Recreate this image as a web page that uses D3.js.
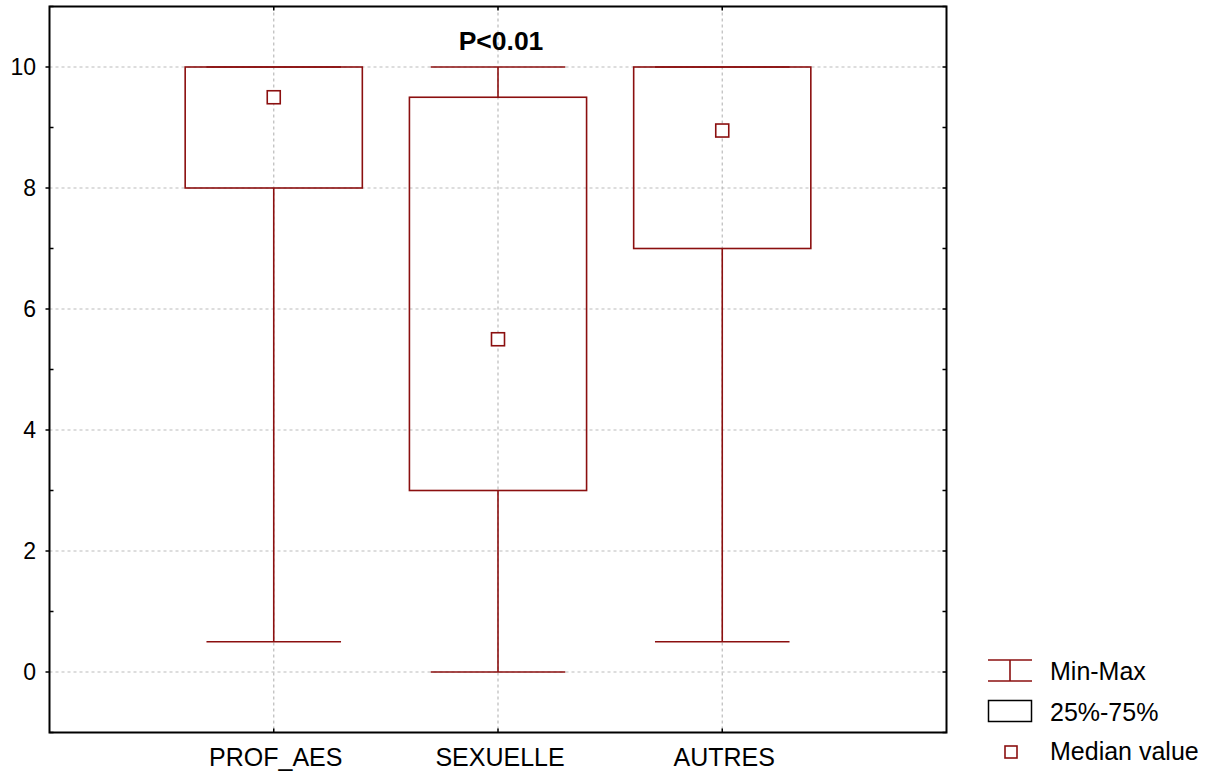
<!DOCTYPE html>
<html><head><meta charset="utf-8">
<script src="https://cdn.jsdelivr.net/npm/d3@7"></script>
<style>body{margin:0;background:#fff}text{font-family:"Liberation Sans",Arial,sans-serif}</style>
</head><body>
<svg id="c" width="1220" height="776"></svg>
<script>
const categories = ["PROF_AES", "SEXUELLE", "AUTRES"];
const minVals    = [0.5, 0, 0.5];
const q1Vals     = [8, 3, 7];
const medianVals = [9.5, 5.5, 8.95];
const q3Vals     = [10, 9.5, 10];
const maxVals    = [10, 10, 10];
const yTicks     = [0, 2, 4, 6, 8, 10];
const annotation = "P<0.01";
const legendLabels = ["Min-Max", "25%-75%", "Median value"];

const red = "#8b0f0f";
const svg = d3.select("#c");
const L = 49.5, R = 946.5, T = 6.5, B = 732.5;
const x = d3.scaleLinear().domain([0, 4]).range([L, R]);
const y = d3.scaleLinear().domain([-1, 11]).range([B, T]);

// grid
const g = svg.append("g");
g.selectAll(".hg").data(yTicks).join("line")
  .attr("x1", L).attr("x2", R).attr("y1", d => y(d)).attr("y2", d => y(d))
  .attr("stroke", "#bbb").attr("stroke-width", 1.2).attr("stroke-dasharray", "3,3");
g.selectAll(".vg").data(categories).join("line")
  .attr("x1", (d,i) => x(i+1)).attr("x2", (d,i) => x(i+1)).attr("y1", T).attr("y2", B)
  .attr("stroke", "#bbb").attr("stroke-width", 1.2).attr("stroke-dasharray", "3,3");

// boxes
const boxW = 0.79, capW = 0.6;
const data = categories.map((c, i) => ({c, i, min: minVals[i], q1: q1Vals[i], med: medianVals[i], q3: q3Vals[i], max: maxVals[i]}));
const bx = svg.append("g");
data.forEach(d => {
  const cx = x(d.i + 1);
  const hw = (x(boxW/2) - x(0));
  const cw = (x(capW/2) - x(0));
  bx.append("line").attr("x1", cx).attr("x2", cx).attr("y1", y(d.q1)).attr("y2", y(d.min)).attr("stroke", red).attr("stroke-width", 1.6);
  bx.append("line").attr("x1", cx).attr("x2", cx).attr("y1", y(d.q3)).attr("y2", y(d.max)).attr("stroke", red).attr("stroke-width", 1.6);
  bx.append("line").attr("x1", cx - cw).attr("x2", cx + cw).attr("y1", y(d.min)).attr("y2", y(d.min)).attr("stroke", red).attr("stroke-width", 1.6);
  bx.append("line").attr("x1", cx - cw).attr("x2", cx + cw).attr("y1", y(d.max)).attr("y2", y(d.max)).attr("stroke", red).attr("stroke-width", 1.6);
  bx.append("rect").attr("x", cx - hw).attr("y", y(d.q3)).attr("width", 2*hw).attr("height", y(d.q1) - y(d.q3))
    .attr("fill", "none").attr("stroke", red).attr("stroke-width", 1.6);
  bx.append("rect").attr("x", cx - 6.5).attr("y", y(d.med) - 6.5).attr("width", 13).attr("height", 13)
    .attr("fill", "#fff").attr("stroke", red).attr("stroke-width", 1.6);
});

// frame
svg.append("rect").attr("x", L).attr("y", T).attr("width", R - L).attr("height", B - T)
  .attr("fill", "none").attr("stroke", "#000").attr("stroke-width", 2);

// y axis ticks and labels
const minor = d3.range(-1, 12, 1);
svg.selectAll(".lt").data(minor).join("line")
  .attr("x1", L).attr("x2", d => d % 2 === 0 ? L - 4 : L + 4)
  .attr("y1", d => y(d)).attr("y2", d => y(d)).attr("stroke", "#000").attr("stroke-width", 1.5);
svg.selectAll(".rt").data(minor).join("line")
  .attr("x1", R).attr("x2", R - 4)
  .attr("y1", d => y(d)).attr("y2", d => y(d)).attr("stroke", "#000").attr("stroke-width", 1.5);
svg.selectAll(".yl").data(yTicks).join("text")
  .attr("x", 36).attr("y", d => y(d) + 8).attr("text-anchor", "end")
  .attr("font-size", 23).attr("fill", "#000").text(d => d);

// x ticks and labels
categories.forEach((c, i) => {
  svg.append("line").attr("x1", x(i+1)).attr("x2", x(i+1)).attr("y1", B).attr("y2", B - 4).attr("stroke", "#000").attr("stroke-width", 1.5);
  svg.append("line").attr("x1", x(i+1)).attr("x2", x(i+1)).attr("y1", T).attr("y2", T + 4).attr("stroke", "#000").attr("stroke-width", 1.5);
  svg.append("text").attr("x", x(i+1) + 2).attr("y", 766).attr("text-anchor", "middle")
    .attr("font-size", 25).attr("fill", "#000").text(c);
});

// annotation
svg.append("text").attr("x", x(2) + 3).attr("y", 50).attr("text-anchor", "middle")
  .attr("font-size", 26.5).attr("font-weight", "bold").attr("fill", "#000").text(annotation);

// legend
const lg = svg.append("g");
lg.append("line").attr("x1", 988).attr("x2", 1032).attr("y1", 660).attr("y2", 660).attr("stroke", red).attr("stroke-width", 1.6);
lg.append("line").attr("x1", 988).attr("x2", 1032).attr("y1", 681).attr("y2", 681).attr("stroke", red).attr("stroke-width", 1.6);
lg.append("line").attr("x1", 1010).attr("x2", 1010).attr("y1", 660).attr("y2", 681).attr("stroke", red).attr("stroke-width", 1.6);
lg.append("rect").attr("x", 988.5).attr("y", 700.5).attr("width", 43).attr("height", 21).attr("fill", "none").attr("stroke", "#000").attr("stroke-width", 1.5);
lg.append("rect").attr("x", 1005).attr("y", 746).attr("width", 12).attr("height", 12).attr("fill", "none").attr("stroke", red).attr("stroke-width", 1.6);
const ly = [680, 721, 760];
legendLabels.forEach((t, i) => {
  lg.append("text").attr("x", 1050).attr("y", ly[i]).attr("font-size", 25).attr("fill", "#000").text(t);
});
</script>
</body></html>
